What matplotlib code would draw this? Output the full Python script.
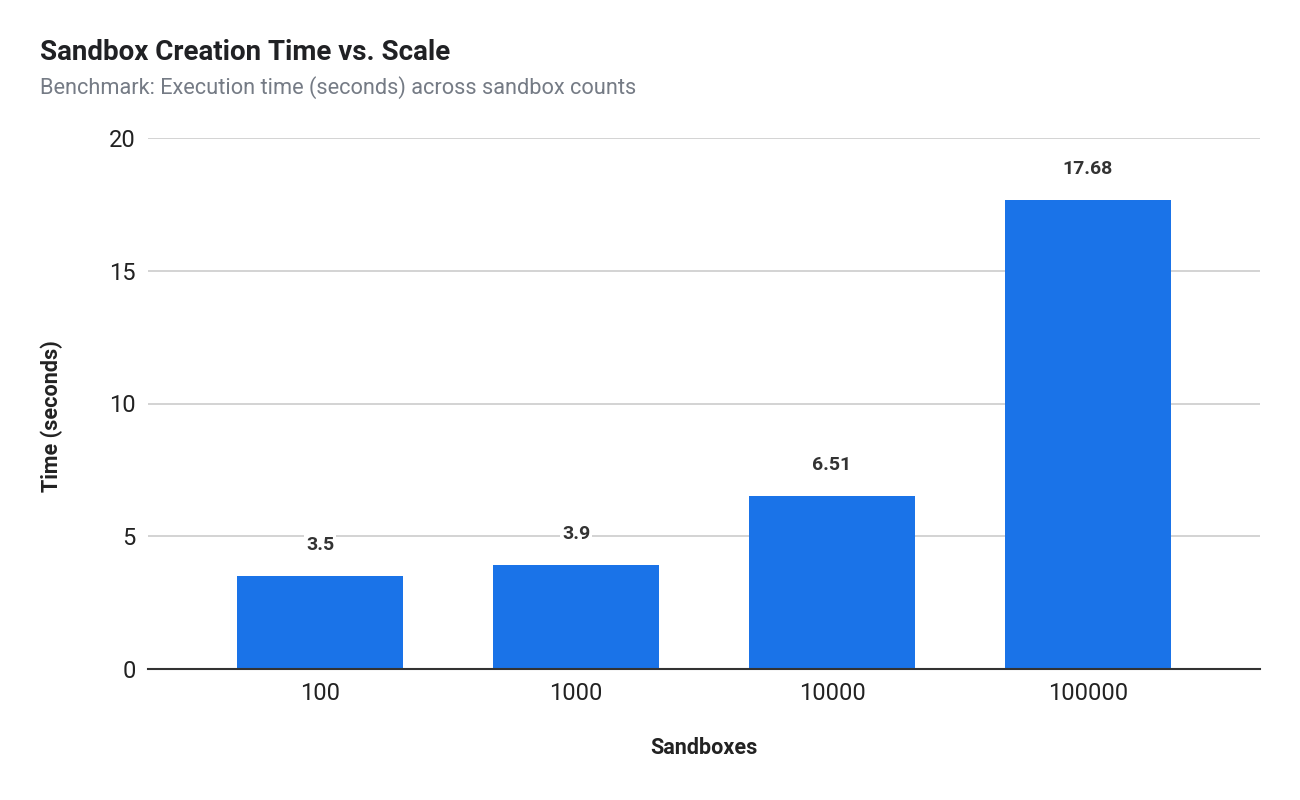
import matplotlib
matplotlib.use("Agg")
import matplotlib.pyplot as plt

plt.rcParams['font.family'] = ['Roboto', 'DejaVu Sans']

categories = ["100", "1000", "10000", "100000"]
values = [3.5, 3.9, 6.51, 17.68]
value_labels = ["3.5", "3.9", "6.51", "17.68"]
yticks = [0, 5, 10, 15, 20]

fig = plt.figure(figsize=(13, 8), dpi=100)
ax = fig.add_axes([148/1300, 1 - 669/800, (1260-148)/1300, (669-138)/800])

x = list(range(len(categories)))
bars = ax.bar(x, values, width=0.648, color="#1a73e8", zorder=3)

for xi, v, lab in zip(x, values, value_labels):
    ax.annotate(lab, (xi, v), xytext=(0, 31), textcoords="offset pixels",
                ha="center", va="center", fontsize=14, fontweight="bold",
                color="#333333", zorder=4,
                bbox=dict(boxstyle="square,pad=0.1", fc="white", ec="none"))

ax.set_xlim(-0.672, 3.672)
ax.set_ylim(0, 20)
ax.set_yticks(yticks)
ax.set_yticklabels([str(t) for t in yticks])
ax.set_xticks(x)
ax.set_xticklabels(categories)
ax.tick_params(axis="both", length=0, labelsize=17, colors="#222222")
ax.tick_params(axis="y", pad=9)
ax.tick_params(axis="x", pad=9)
ax.grid(axis="y", color="#cccccc", linewidth=1.2, zorder=0)
ax.set_axisbelow(True)
for s in ["top", "right", "left"]:
    ax.spines[s].set_visible(False)
ax.spines["bottom"].set_color("#333333")
ax.spines["bottom"].set_linewidth(1.5)
ax.spines["bottom"].set_zorder(5)

ax.set_xlabel("Sandboxes", fontsize=15.5, fontweight="bold", color="#222222")
ax.set_ylabel("Time (seconds)", fontsize=15.5, fontweight="bold", color="#222222")
ax.xaxis.set_label_coords(0.5, -(748 - 669) / 531, transform=ax.transAxes)
ax.xaxis.label.set_va("center")
ax.yaxis.set_label_coords((52 - 148) / 1112, (669 - 416) / 531, transform=ax.transAxes)
ax.yaxis.label.set_va("center")

fig.text(40/1300, 1 - 52/800, "Sandbox Creation Time vs. Scale", fontsize=20,
         fontweight="bold", color="#202124", va="center", ha="left")
fig.text(40/1300, 1 - 88/800, "Benchmark: Execution time (seconds) across sandbox counts",
         fontsize=15.7, color="#757b85", va="center", ha="left")

fig.savefig("out.png", dpi=100, facecolor="white")
